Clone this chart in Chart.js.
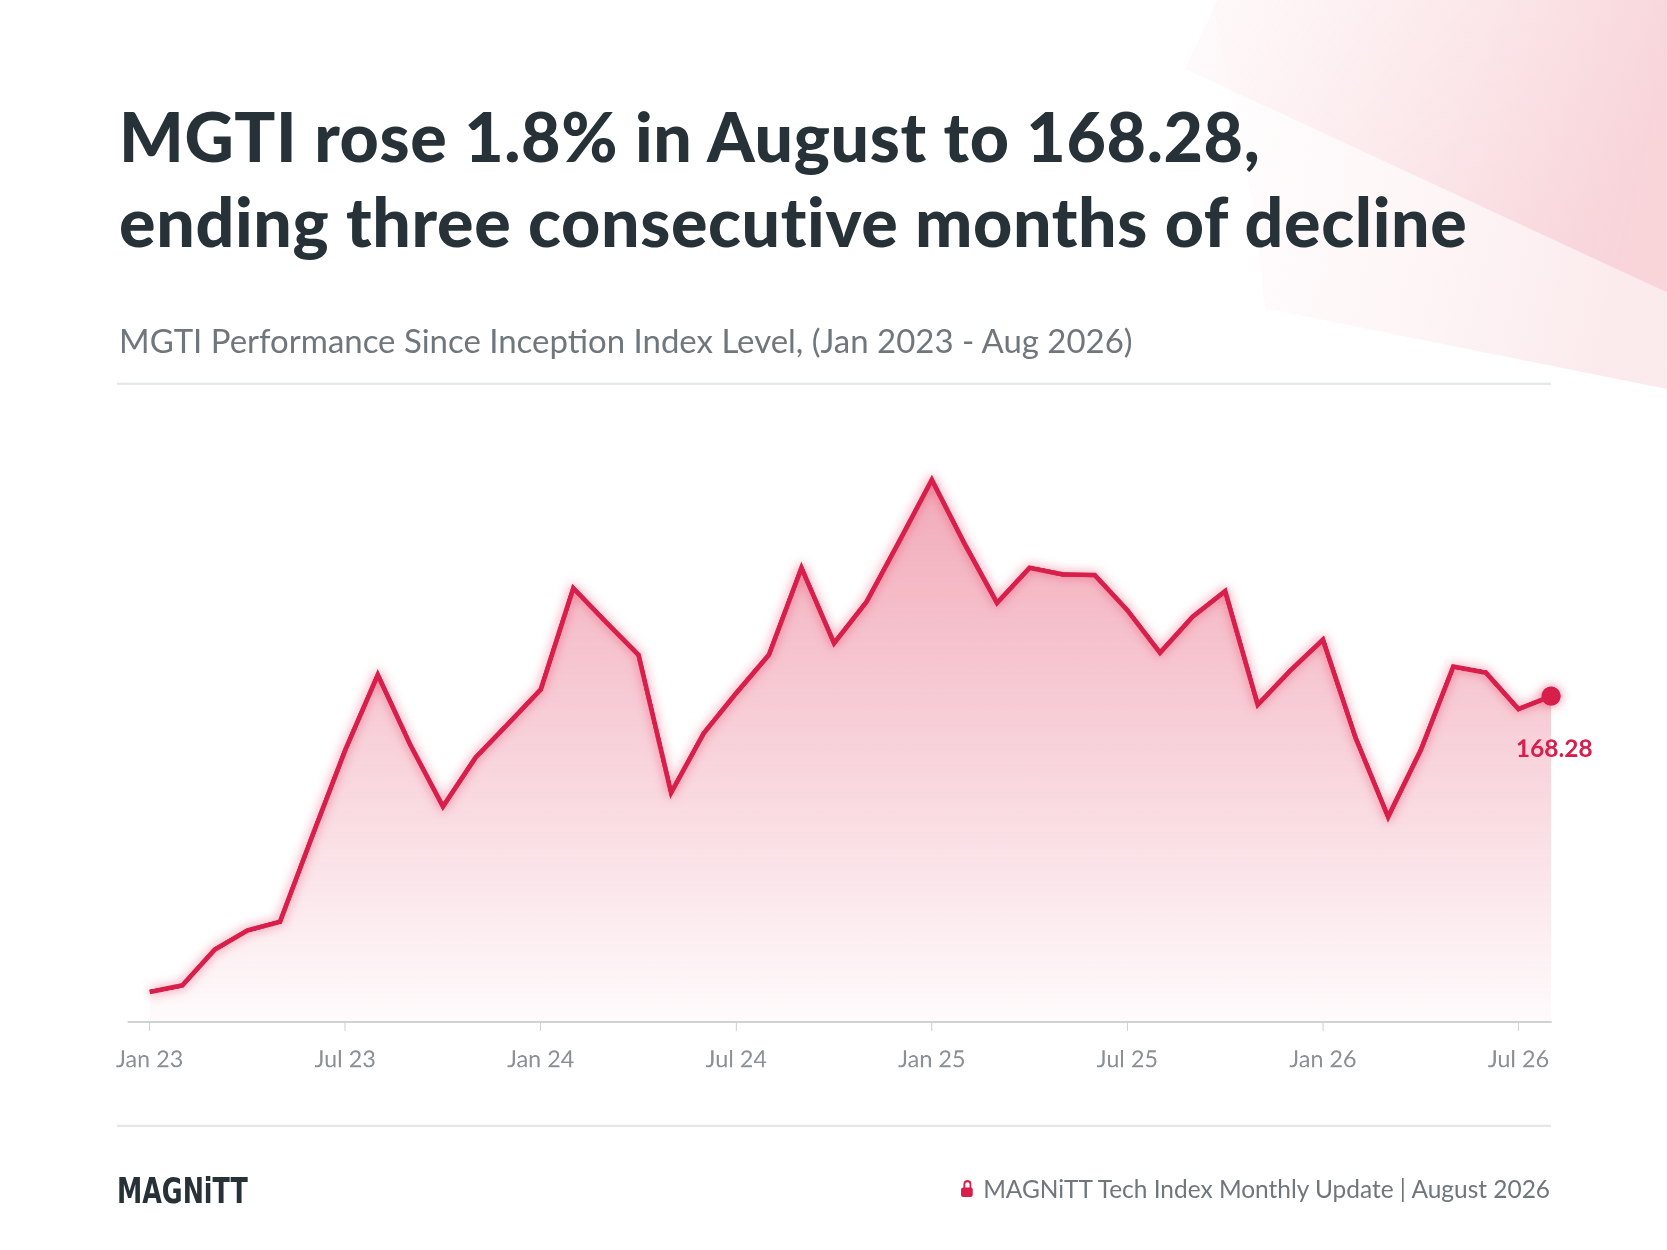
<!DOCTYPE html>
<html>
<head>
<meta charset="utf-8">
<script src="https://cdn.jsdelivr.net/npm/chart.js@4"></script>
<style>
  html,body{margin:0;padding:0;background:#fff;overflow:hidden;width:1667px;height:1250px}
  #page{position:relative;width:1568px;height:1176px;transform:scale(1.0631);transform-origin:0 0;font-family:Lato,sans-serif;overflow:hidden}
  .ray{position:absolute;left:0;top:0;width:1568px;height:400px}
  h1{position:absolute;left:112px;top:88px;margin:0;font-size:64px;line-height:80px;font-weight:900;color:#263238;letter-spacing:0.6px;white-space:nowrap}
  .sub{position:absolute;left:112px;top:301px;font-size:31px;color:#6f767c}
  .rule{position:absolute;left:110px;width:1349px;height:2px;background:#e3e6e8}
  #wrap{position:absolute;left:95px;top:380px;width:1430px;height:644px}
  .logo{position:absolute;left:110px;top:1100px;font-family:"DejaVu Sans Condensed",sans-serif;font-weight:bold;font-size:34px;color:#263238;letter-spacing:0;transform:scaleX(0.78);transform-origin:0 0}
  .foot{position:absolute;right:110px;top:1104px;font-size:23px;color:#6f767c}
  .lock{display:inline-block;width:11px;height:9px;background:#d81e4a;border-radius:2px;position:relative;margin-right:10px;top:-1px}
  .lock:before{content:"";position:absolute;left:2px;top:-7px;width:4px;height:6px;border:2px solid #d81e4a;border-bottom:none;border-radius:4px 4px 0 0}
</style>
</head>
<body>
<div id="page">
  <svg class="ray" viewBox="0 0 1568 400">
    <defs>
      <linearGradient id="g1" x1="0" y1="0" x2="1" y2="0.3">
        <stop offset="0" stop-color="#fbe3e6" stop-opacity="0.15"/>
        <stop offset="1" stop-color="#f6c9cf" stop-opacity="0.65"/>
      </linearGradient>
      <linearGradient id="g2" x1="0" y1="0" x2="1" y2="0.2">
        <stop offset="0" stop-color="#fdf0f1" stop-opacity="0.1"/>
        <stop offset="1" stop-color="#f9dde0" stop-opacity="0.6"/>
      </linearGradient>
    </defs>
    <polygon points="1140,0 1568,0 1568,366 1190,290 1180,200" fill="url(#g2)"/>
    <polygon points="1145,0 1568,0 1568,275 1115,65" fill="url(#g1)"/>
  </svg>
  <h1>MGTI rose 1.8% in August to 168.28,<br>ending three consecutive months of decline</h1>
  <div class="sub">MGTI Performance Since Inception Index Level, (Jan 2023 - Aug 2026)</div>
  <div class="rule" style="top:360px"></div>
  <div id="wrap"><canvas id="myChart"></canvas></div>
  <div class="rule" style="top:1058px"></div>
  <div class="logo">MAGNiTT</div>
  <div class="foot"><span class="lock"></span>MAGNiTT Tech Index Monthly Update | August 2026</div>
</div>
<script>
var months=['Jan 23','Feb 23','Mar 23','Apr 23','May 23','Jun 23','Jul 23','Aug 23','Sep 23','Oct 23','Nov 23','Dec 23',
 'Jan 24','Feb 24','Mar 24','Apr 24','May 24','Jun 24','Jul 24','Aug 24','Sep 24','Oct 24','Nov 24','Dec 24',
 'Jan 25','Feb 25','Mar 25','Apr 25','May 25','Jun 25','Jul 25','Aug 25','Sep 25','Oct 25','Nov 25','Dec 25',
 'Jan 26','Feb 26','Mar 26','Apr 26','May 26','Jun 26','Jul 26','Aug 26']
var mgti=[100,101.5,109.8,114.2,116.2,136.2,155.8,173.2,157.0,142.8,154.1,161.9,
 169.8,193.2,185.4,177.8,146.0,159.7,169.0,177.8,197.9,180.5,190.1,204.0,
 218.2,203.5,189.8,197.9,196.4,196.2,188.1,178.3,186.6,192.5,166.3,174.2,
 181.3,158.7,140.4,155.8,175.1,173.7,165.3,168.28]
var tickIdx=[0,6,12,18,24,30,36,42]
var red='#d81e4a'
var points=mgti.map(function(v,i){return {x:i,y:v}})

var glow={id:'glow',
  beforeDatasetDraw:function(chart){var c=chart.ctx;c.save();c.shadowColor='rgba(230,40,80,0.6)';c.shadowBlur=20},
  afterDatasetDraw:function(chart){chart.ctx.restore()},
  afterDraw:function(chart){
    var meta=chart.getDatasetMeta(0),p=meta.data[meta.data.length-1],c=chart.ctx
    c.save();c.fillStyle=red;c.font='bold 23px Lato';c.textAlign='center'
    c.fillText(mgti[mgti.length-1].toFixed(2),p.x+3,p.y+57);c.restore()
  }}

var ctx=document.getElementById('myChart')
new Chart(ctx,{
  type:'line',
  data:{datasets:[{
    data:points,borderColor:red,borderWidth:4.5,tension:0,clip:false,
    fill:'start',
    backgroundColor:function(context){
      var a=context.chart.chartArea;if(!a)return 'rgba(216,30,74,0.2)'
      var g=context.chart.ctx.createLinearGradient(0,a.top+40,0,a.bottom)
      g.addColorStop(0,'rgba(225,60,95,0.45)');g.addColorStop(1,'rgba(225,60,95,0.02)');return g},
    pointRadius:function(c){return c.dataIndex===mgti.length-1?9:0},
    pointBackgroundColor:red,pointBorderWidth:0
  }]},
  options:{responsive:true,maintainAspectRatio:false,devicePixelRatio:2,animation:false,
    layout:{padding:{left:0,right:66,top:0,bottom:0}},
    plugins:{legend:{display:false},tooltip:{enabled:false}},
    scales:{
      x:{type:'linear',min:-0.65,max:43,
        afterBuildTicks:function(s){s.ticks=tickIdx.map(function(v){return {value:v}})},
        ticks:{callback:function(v){return months[v]},color:'#8a9095',font:{family:'Lato',size:22},padding:14,maxRotation:0},
        grid:{drawOnChartArea:false,tickLength:8,color:'#cfd3d6'},
        border:{color:'#cfd3d6',width:2}},
      y:{display:false,min:93,max:233.5}
    }},
  plugins:[glow]
})
</script>
</body>
</html>
